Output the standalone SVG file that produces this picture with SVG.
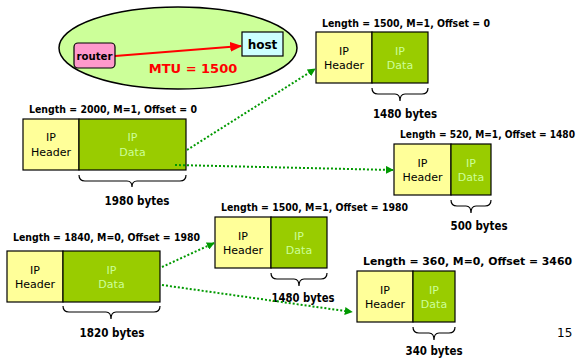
<svg xmlns="http://www.w3.org/2000/svg" width="583" height="360" viewBox="0 0 583 360">
  <style>
    .lbl { font-family: "DejaVu Sans", "Liberation Sans", sans-serif; font-weight: bold; font-size: 10px; fill: #000; }
    .bytes { font-family: "DejaVu Sans", "Liberation Sans", sans-serif; font-weight: bold; font-size: 12px; fill: #000; text-anchor: middle; }
    .hdr { fill: #ffff99; stroke: #000; stroke-width: 1.2; }
    .dat { fill: #99cc00; stroke: #000; stroke-width: 1.2; }
    .ht { font-family: "DejaVu Sans", "Liberation Sans", sans-serif; font-size: 11px; fill: #000; text-anchor: middle; }
    .dt { font-family: "DejaVu Sans", "Liberation Sans", sans-serif; font-size: 11px; fill: #ccff99; text-anchor: middle; }
    .brace { fill: none; stroke: #000; stroke-width: 1.2; }
    .conn { fill: none; stroke: #009900; stroke-width: 2; stroke-dasharray: 2 2; }
  </style>
  <defs>
    <marker id="ga" viewBox="0 0 10 10" refX="9" refY="5" markerWidth="4" markerHeight="4" orient="auto" markerUnits="strokeWidth">
      <path d="M0,0 L10,5 L0,10 z" fill="#009900"/>
    </marker>
    <marker id="ra" viewBox="0 0 10 10" refX="9" refY="5" markerWidth="6" markerHeight="6" orient="auto" markerUnits="strokeWidth">
      <path d="M0,1 L10,5 L0,9 z" fill="#ff0000"/>
    </marker>
  </defs>

  <rect width="583" height="360" fill="#fff"/>

  <!-- network with its MTU -->
  <g id="network">
    <ellipse cx="178" cy="48" rx="119" ry="41" fill="#ccff99" stroke="#000" stroke-width="1.5"/>
    <line x1="115" y1="56" x2="241" y2="46" stroke="#ff0000" stroke-width="2" marker-end="url(#ra)"/>
    <text x="193" y="73" font-family="DejaVu Sans, Liberation Sans, sans-serif" font-weight="bold" font-size="13" fill="#ff0000" text-anchor="middle">MTU = 1500</text>
  </g>
  <g id="router">
    <rect x="74" y="43" width="41" height="25" rx="4" fill="#ff99cc" stroke="#000" stroke-width="1.2"/>
    <text x="94.5" y="60" font-family="DejaVu Sans, Liberation Sans, sans-serif" font-weight="bold" font-size="10" text-anchor="middle" textLength="36" lengthAdjust="spacingAndGlyphs">router</text>
  </g>
  <g id="host">
    <rect x="242" y="32" width="41" height="24" fill="#ccffff" stroke="#000" stroke-width="1.2"/>
    <text x="262.5" y="49" font-family="DejaVu Sans, Liberation Sans, sans-serif" font-weight="bold" font-size="12" text-anchor="middle">host</text>
  </g>

  <!-- original datagram 2000 -->
  <g id="pkt2000">
    <text class="lbl" x="29" y="113" textLength="168" lengthAdjust="spacingAndGlyphs">Length = 2000, M=1, Offset = 0</text>
    <rect class="hdr" x="23" y="119" width="56" height="51"/>
    <rect class="dat" x="79" y="119" width="107" height="51"/>
    <text class="ht" x="51" y="141">IP</text><text class="ht" x="51" y="156">Header</text>
    <text class="dt" x="132.5" y="141">IP</text><text class="dt" x="132.5" y="156">Data</text>
    <path class="brace" d="M79,175 q0,6 6,6 L127,181 q5,0 5,6 q0,-6 5,-6 L180,181 q6,0 6,-6"/>
    <text class="bytes" x="137" y="205" textLength="65" lengthAdjust="spacingAndGlyphs">1980 bytes</text>
  </g>

  <!-- fragment 1500 / offset 0 -->
  <g id="frag1">
    <text class="lbl" x="322" y="27" textLength="168" lengthAdjust="spacingAndGlyphs">Length = 1500, M=1, Offset = 0</text>
    <rect class="hdr" x="316" y="32" width="56" height="51"/>
    <rect class="dat" x="372" y="32" width="56" height="51"/>
    <text class="ht" x="344" y="55">IP</text><text class="ht" x="344" y="69">Header</text>
    <text class="dt" x="400" y="55">IP</text><text class="dt" x="400" y="69">Data</text>
    <path class="brace" d="M372,88 q0,6 6,6 L395,94 q5,0 5,7 q0,-7 5,-7 L422,94 q6,0 6,-6"/>
    <text class="bytes" x="405" y="118" textLength="64" lengthAdjust="spacingAndGlyphs">1480 bytes</text>
  </g>

  <!-- fragment 520 / offset 1480 -->
  <g id="frag2">
    <text class="lbl" x="575" y="138" text-anchor="end" font-size="9.5" textLength="175" lengthAdjust="spacingAndGlyphs">Length = 520, M=1, Offset = 1480</text>
    <rect class="hdr" x="394" y="144" width="57" height="51"/>
    <rect class="dat" x="451" y="144" width="40" height="51"/>
    <text class="ht" x="422.5" y="167">IP</text><text class="ht" x="422.5" y="181">Header</text>
    <text class="dt" x="471" y="167">IP</text><text class="dt" x="471" y="181">Data</text>
    <path class="brace" d="M451,200 q0,6 6,6 L466,206 q5,0 5,7 q0,-7 5,-7 L485,206 q6,0 6,-6"/>
    <text class="bytes" x="479" y="230" textLength="57" lengthAdjust="spacingAndGlyphs">500 bytes</text>
  </g>

  <!-- original datagram 1840 -->
  <g id="pkt1840">
    <text class="lbl" x="13" y="241" textLength="187" lengthAdjust="spacingAndGlyphs">Length = 1840, M=0, Offset = 1980</text>
    <rect class="hdr" x="7" y="251" width="56" height="51"/>
    <rect class="dat" x="63" y="251" width="97" height="51"/>
    <text class="ht" x="35" y="274">IP</text><text class="ht" x="35" y="288">Header</text>
    <text class="dt" x="111.5" y="274">IP</text><text class="dt" x="111.5" y="288">Data</text>
    <path class="brace" d="M63,306 q0,6 6,6 L106,312 q5,0 5,7 q0,-7 5,-7 L154,312 q6,0 6,-6"/>
    <text class="bytes" x="112" y="337" textLength="65" lengthAdjust="spacingAndGlyphs">1820 bytes</text>
  </g>

  <!-- fragment 1500 / offset 1980 -->
  <g id="frag3">
    <text class="lbl" x="221" y="211" textLength="187" lengthAdjust="spacingAndGlyphs">Length = 1500, M=1, Offset = 1980</text>
    <rect class="hdr" x="215" y="217" width="56" height="51"/>
    <rect class="dat" x="271" y="217" width="56" height="51"/>
    <text class="ht" x="243" y="240">IP</text><text class="ht" x="243" y="254">Header</text>
    <text class="dt" x="299" y="240">IP</text><text class="dt" x="299" y="254">Data</text>
    <path class="brace" d="M271,273 q0,6 6,6 L294,279 q5,0 5,7 q0,-7 5,-7 L321,279 q6,0 6,-6"/>
    <text class="bytes" x="303" y="302" textLength="63" lengthAdjust="spacingAndGlyphs">1480 bytes</text>
  </g>

  <!-- fragment 360 / offset 3460 -->
  <g id="frag4">
    <text class="lbl" x="363" y="265" font-size="12" textLength="209" lengthAdjust="spacingAndGlyphs">Length = 360, M=0, Offset = 3460</text>
    <rect class="hdr" x="357" y="271" width="56" height="51"/>
    <rect class="dat" x="413" y="271" width="42" height="51"/>
    <text class="ht" x="385" y="294">IP</text><text class="ht" x="385" y="308">Header</text>
    <text class="dt" x="434" y="294">IP</text><text class="dt" x="434" y="308">Data</text>
    <path class="brace" d="M413,327 q0,6 6,6 L429,333 q5,0 5,7 q0,-7 5,-7 L449,333 q6,0 6,-6"/>
    <text class="bytes" x="434" y="355" textLength="57" lengthAdjust="spacingAndGlyphs">340 bytes</text>
  </g>

  <text x="557" y="337" font-family="DejaVu Sans, Liberation Sans, sans-serif" font-size="12" fill="#000">15</text>

  <!-- fragmentation connectors -->
  <g id="connectors">
    <line class="conn" x1="187" y1="150" x2="315" y2="69" marker-end="url(#ga)"/>
    <line class="conn" x1="175" y1="165" x2="393" y2="170" marker-end="url(#ga)"/>
    <line class="conn" x1="162" y1="267" x2="214" y2="243" marker-end="url(#ga)"/>
    <line class="conn" x1="162" y1="285" x2="352" y2="312" marker-end="url(#ga)"/>
  </g>
</svg>
